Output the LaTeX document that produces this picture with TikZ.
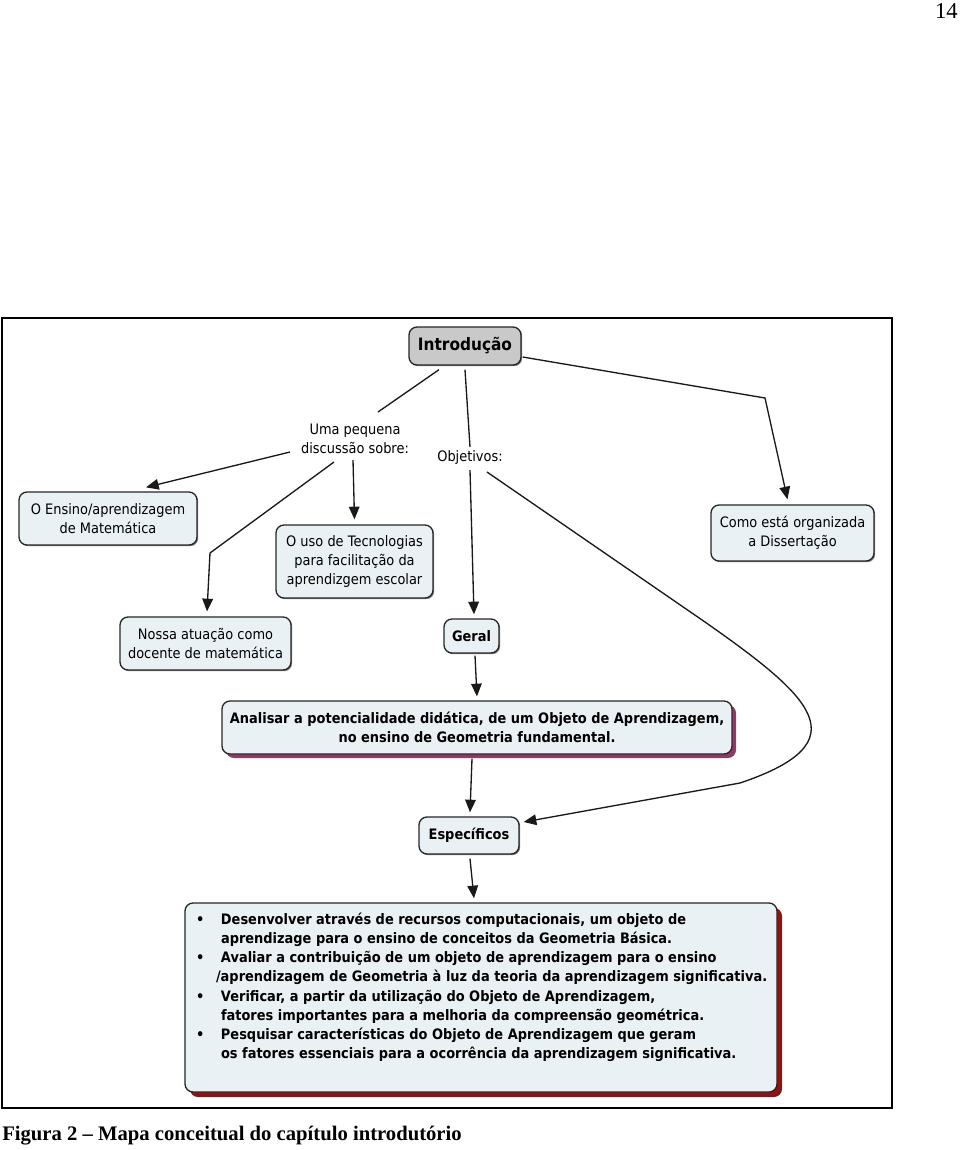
\documentclass[tikz,border=0pt]{standalone}
\usepackage{fontspec}
\setmainfont{Liberation Serif}
\newfontfamily\cmapfont[FakeStretch=0.9]{DejaVu Sans}
\usetikzlibrary{calc,arrows.meta,shadows}
\definecolor{boxfill}{HTML}{EAF1F4}
\definecolor{introfill}{HTML}{C9C9C9}
\definecolor{analshadow}{HTML}{8E3A66}
\definecolor{bulshadow}{HTML}{8B1414}
\newcommand\bl[1]{\hspace*{2.25pt}\makebox[18.75pt][l]{\textbullet}#1}
\newcommand\nl[1]{\hspace*{21pt}#1}
\begin{document}
\begin{tikzpicture}[x=0.75pt,y=-0.75pt,
  every node/.style={font=\cmapfont\fontsize{10.8}{14.3}\selectfont},
  cbox/.style={draw=black!85, line width=1pt, rounded corners=6pt, fill=boxfill, align=center, inner sep=0pt},
  smallshadow/.style={general shadow={fill=black!50, shadow xshift=0.9pt, shadow yshift=-0.9pt}},
  lbl/.style={align=center, inner sep=1pt},
  conn/.style={line width=1pt, draw=black!90},
  arr/.style={conn, -{Triangle[length=9.5pt,width=8pt]}},
]
\useasboundingbox (0,0) rectangle (960,1150);
\node[anchor=east, inner sep=0pt, font=\fontsize{17}{20}\selectfont] (pagenum) at (958,11) {14};
\draw[line width=1.5pt] (2,318) rectangle (892,1108);

\node[cbox, smallshadow, fill=introfill, minimum width=84pt, minimum height=28.5pt, font=\cmapfont\bfseries\fontsize{12.8}{15}\selectfont] (intro) at (465,346) {Introdução};
\node[lbl] (uma) at (355,439) {Uma pequena\\discussão sobre:};
\node[lbl] (obj) at (470,458) {Objetivos:};
\node[cbox, smallshadow, minimum width=133.5pt, minimum height=39.75pt] (ensino) at (108,518.5) {O Ensino/aprendizagem\\de Matemática};
\node[cbox, smallshadow, minimum width=117.75pt, minimum height=54.75pt] (uso) at (354.5,561.5) {O uso de Tecnologias\\para facilitação da\\aprendizgem escolar};
\node[cbox, smallshadow, minimum width=122.25pt, minimum height=42pt] (como) at (792.5,533) {Como está organizada\\a Dissertação};
\node[cbox, smallshadow, minimum width=128.25pt, minimum height=39.75pt] (nossa) at (205.5,643.5) {Nossa atuação como\\docente de matemática};
\node[cbox, smallshadow, minimum width=41.25pt, minimum height=25.5pt, font=\cmapfont\bfseries\fontsize{10.8}{14.3}\selectfont] (geral) at (471.5,636) {Geral};
\node[cbox, general shadow={fill=analshadow, shadow xshift=3pt, shadow yshift=-3pt}, minimum width=382.5pt, minimum height=39.75pt, font=\cmapfont\bfseries\fontsize{10.8}{14.3}\selectfont] (analisar) at (477,727.5) {Analisar a potencialidade didática, de um Objeto de Aprendizagem,\\no ensino de Geometria fundamental.};
\node[cbox, smallshadow, minimum width=75pt, minimum height=27.75pt, font=\cmapfont\bfseries\fontsize{10.8}{14.3}\selectfont] (espec) at (469,835.5) {Específicos};
\node[cbox, general shadow={fill=bulshadow, shadow xshift=3.75pt, shadow yshift=-3.75pt}, minimum width=444pt, minimum height=141.75pt, font=\cmapfont\bfseries\fontsize{10.8}{14.36}\selectfont] (bullets) at (481,997.5) {\parbox[c][141pt][t]{432pt}{\raggedright
\bl{\rule{0pt}{15.75pt}Desenvolver através de recursos computacionais, um objeto de}\\
\nl{aprendizage para o ensino de conceitos da Geometria Básica.}\\
\bl{Avaliar a contribuição de um objeto de aprendizagem para o ensino}\\
\hspace*{17.25pt}/aprendizagem de Geometria à luz da teoria da aprendizagem significativa.\\
\bl{Verificar, a partir da utilização do Objeto de Aprendizagem,}\\
\nl{fatores importantes para a melhoria da compreensão geométrica.}\\
\bl{Pesquisar características do Objeto de Aprendizagem que geram}\\
\nl{os fatores essenciais para a ocorrência da aprendizagem significativa.}}};

\node[anchor=west, inner sep=0pt, font=\bfseries\fontsize{15.5}{18}\selectfont] (caption) at (2,1136) {Figura 2 -- Mapa conceitual do capítulo introdutório};

\coordinate (bendc) at (765,398);
\coordinate (bendf) at (210,553);
\coordinate (h1) at (705,622);
\coordinate (h2) at (812,697);
\coordinate (h3) at (862,742);
\coordinate (h4) at (740,783);

\draw[conn] ($(intro.south)+(-26,4)$) -- ($(uma)+(23,-27)$);
\draw[conn] ($(intro.south)+(0,4)$) -- ($(obj)+(0,-11)$);
\draw[arr] ($(intro.east)+(1,11)$) -- (bendc) -- ($(como.north)+(-5,-5)$);
\draw[arr] ($(uma)+(-65,13)$) -- ($(ensino.north)+(38,-4)$);
\draw[arr] ($(uma)+(-2,21)$) -- ($(uso.north)+(0,-5)$);
\draw[arr] ($(uma)+(-21,23)$) -- (bendf) -- ($(nossa.north)+(1.5,-5)$);
\draw[arr] ($(obj)+(0,12)$) -- ($(geral.north)+(2.5,-4)$);
\draw[arr] ($(obj)+(17,14)$) -- (h1) .. controls (h2) and (h3) .. (h4) -- ($(espec.east)+(4,-13.5)$);
\draw[arr] ($(geral.south)+(3.5,2)$) -- ($(analisar.north)+(0,-4)$);
\draw[arr] ($(analisar.south)+(-5,4)$) -- ($(espec.north)+(1,-4)$);
\draw[arr] ($(espec.south)+(1,4)$) -- ($(bullets.north)+(-7,-4)$);
\end{tikzpicture}
\end{document}
